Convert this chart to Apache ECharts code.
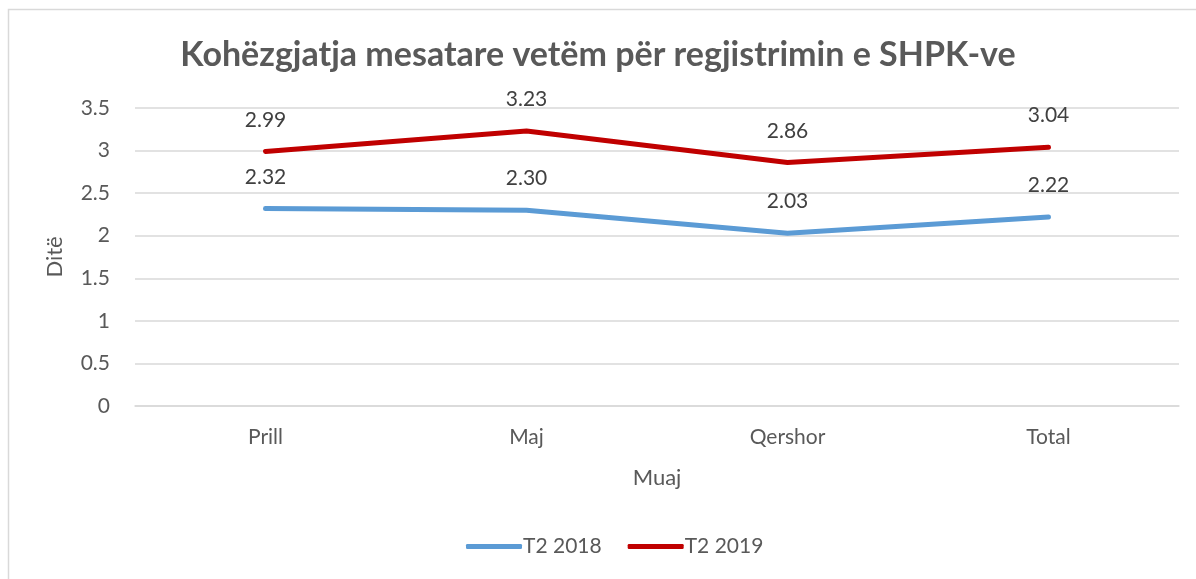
<!DOCTYPE html>
<html>
<head>
<meta charset="utf-8">
<script src="https://cdn.jsdelivr.net/npm/echarts@6/dist/echarts.min.js"></script>
<style>
html, body { margin: 0; padding: 0; background: #fff; }
#chart { width: 1196px; height: 579px; }
</style>
</head>
<body>
<div id="chart"></div>
<script>
var months = ['Prill', 'Maj', 'Qershor', 'Total'];
var t2_2018 = [2.32, 2.30, 2.03, 2.22];
var t2_2019 = [2.99, 3.23, 2.86, 3.04];
var yTicks = [0, 0.5, 1, 1.5, 2, 2.5, 3, 3.5];

var myChart = echarts.init(document.getElementById('chart'));
var font = 'Lato';

function lineSeries(name, data, color) {
	return {
		name : name,
		type : 'line',
		data : data,
		symbol : 'circle',
		symbolSize : 0,
		showSymbol : true,
		smooth : false,
		lineStyle : { width : 5, color : color, cap : 'round' },
		itemStyle : { color : color },
		label : {
			show : true,
			position : 'top',
			distance : 21,
			color : '#404040',
			fontFamily : font,
			fontSize : 21,
			formatter : function(p) { return p.value.toFixed(2); }
		}
	};
}

myChart.setOption({
	backgroundColor : '#fff',
	animation : false,
	graphic : [ {
		type : 'rect',
		shape : { x : 8.5, y : 9.5, width : 1200, height : 600 },
		style : { fill : 'none', stroke : '#d9d9d9', lineWidth : 1.5 }
	} ],
	title : {
		text : 'Kohëzgjatja mesatare vetëm për regjistrimin e SHPK-ve',
		left : 'center',
		top : 33,
		textStyle : { fontFamily : font, fontSize : 34, fontWeight : 'bold', color : '#595959' }
	},
	legend : {
		bottom : 17,
		left : 461,
		itemWidth : 56,
		itemHeight : 5,
		itemGap : 26,
		icon : 'roundRect',
		textStyle : { fontFamily : font, fontSize : 21, color : '#595959', padding : [0, 0, 0, -4] },
		data : [ 'T2 2018', 'T2 2019' ]
	},
	grid : { left : 135, right : 17, top : 108, bottom : 173, containLabel : false },
	xAxis : {
		type : 'category',
		data : months,
		boundaryGap : true,
		name : 'Muaj',
		nameLocation : 'middle',
		nameGap : 61,
		nameTextStyle : { fontFamily : font, fontSize : 22, color : '#595959' },
		axisLine : { show : true, lineStyle : { color : '#d9d9d9', width : 1.5 } },
		axisTick : { show : false },
		axisLabel : { fontFamily : font, fontSize : 21, color : '#595959', margin : 21 }
	},
	yAxis : {
		type : 'value',
		min : yTicks[0],
		max : yTicks[yTicks.length - 1],
		interval : 0.5,
		name : 'Ditë',
		nameLocation : 'middle',
		nameGap : 69,
		nameTextStyle : { fontFamily : font, fontSize : 22, color : '#595959' },
		axisLine : { show : false },
		axisTick : { show : false },
		splitLine : { lineStyle : { color : '#d9d9d9', width : 1.5 } },
		axisLabel : { fontFamily : font, fontSize : 21, color : '#595959', margin : 25 }
	},
	series : [
		lineSeries('T2 2018', t2_2018, '#5b9bd5'),
		lineSeries('T2 2019', t2_2019, '#c00000')
	]
});
</script>
</body>
</html>
